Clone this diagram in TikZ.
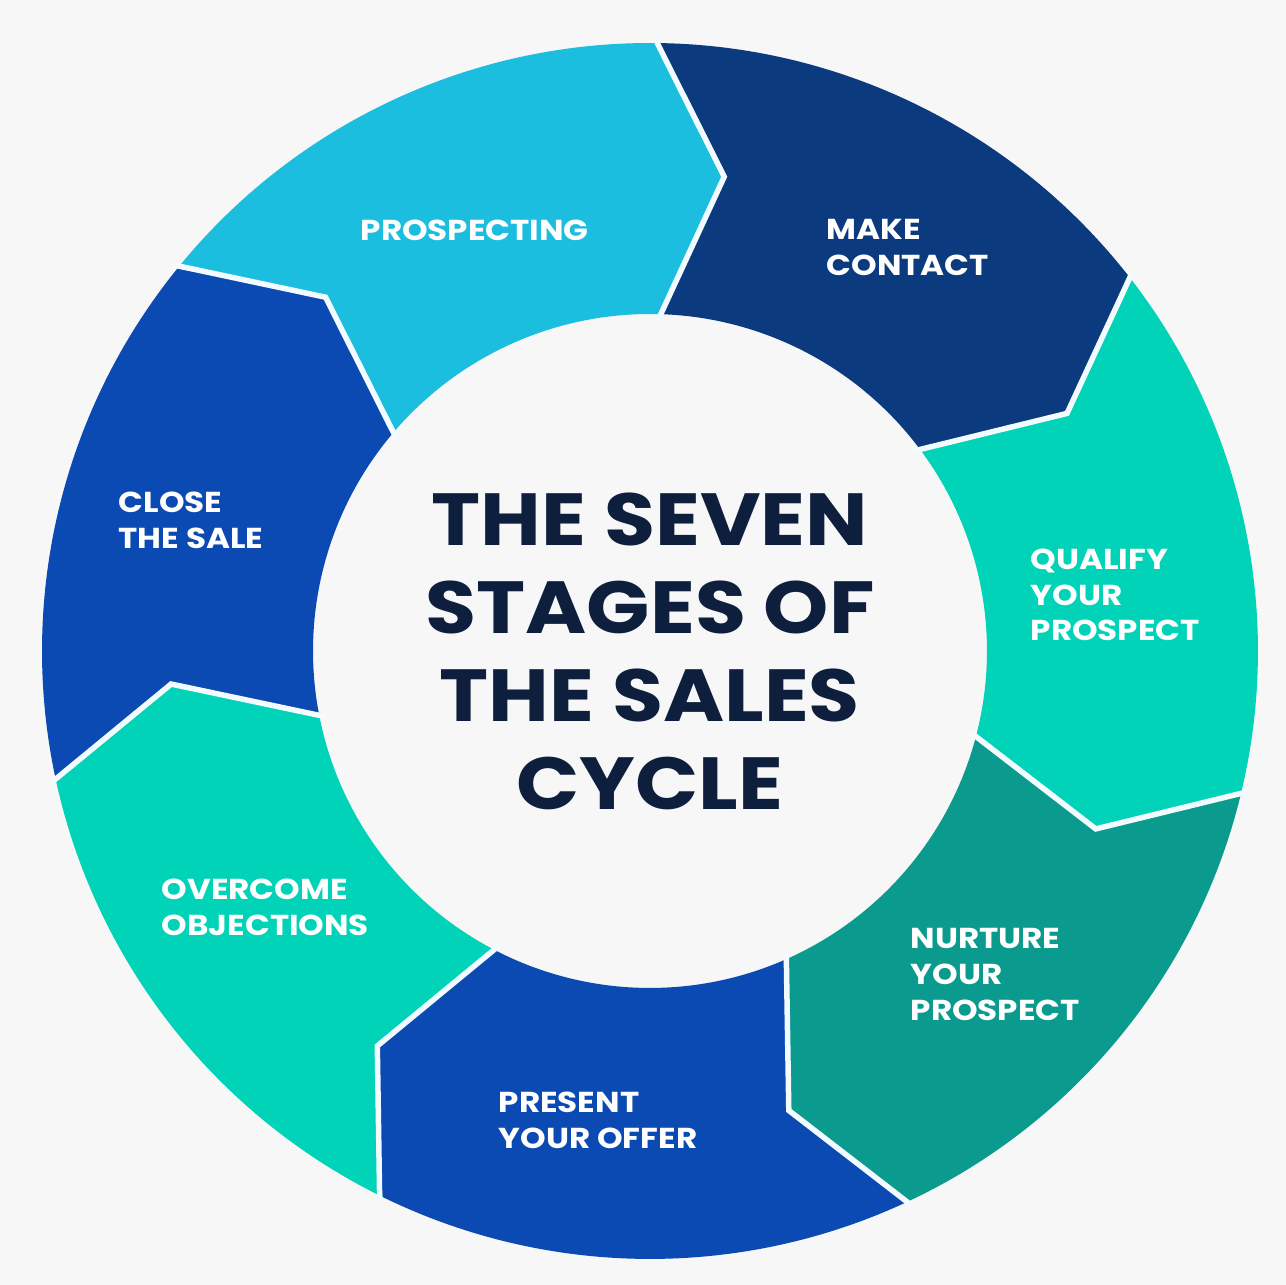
\documentclass[tikz,border=0pt]{standalone}
\usepackage{fontspec}
\setmainfont{Poppins}
\newfontfamily\titlefont{Poppins}[FakeStretch=1.125]
\newfontfamily\labelfont{Poppins}[FakeStretch=1.13]
\definecolor{bgc}{HTML}{F7F7F7}
\definecolor{cProsp}{HTML}{1CBEDF}
\definecolor{cNavy}{HTML}{0B3A7E}
\definecolor{cTurq}{HTML}{00D3B7}
\definecolor{cTeal}{HTML}{0A9B8E}
\definecolor{cRoyal}{HTML}{0B4AB3}
\definecolor{cTitle}{HTML}{0E1F3D}
\definecolor{cSep}{HTML}{F2FBFF}
\newcommand{\Ro}{6.08}
\newcommand{\Ri}{3.37}
\newcommand{\Rt}{4.80}
\newcommand{\salesseg}[3]{%
  \fill[#3] (#1:\Ro) arc[start angle=#1, end angle=#2, radius=\Ro]
    -- ({#2-8.5}:\Rt) -- ({#2-1}:\Ri)
    arc[start angle={#2-1}, end angle={#1-1}, radius=\Ri]
    -- ({#1-8.5}:\Rt) -- cycle;}
\newcommand{\salessep}[1]{%
  \draw[sepline] (#1:{\Ro+0.06}) -- ({#1-8.5}:\Rt) -- ({#1-1}:{\Ri-0.06});}
\tikzset{
  sepline/.style={draw=cSep, line width=0.055cm, line join=miter},
  stagelabel/.style={anchor=north west, inner sep=0pt, align=left, text=white,
    font=\labelfont\bfseries\fontsize{8.2}{10.2}\selectfont},
  titletext/.style={anchor=north, inner sep=0pt, align=center, text=cTitle,
    font=\titlefont\bfseries\fontsize{21}{25.1}\selectfont}
}
\begin{document}
\begin{tikzpicture}
\fill[bgc] (-6.50,-6.34) rectangle (6.36,6.51);
\useasboundingbox (-6.50,-6.34) rectangle (6.36,6.51);
% segments
\salesseg{141.02}{89.6}{cProsp}
\salesseg{89.6}{38.17}{cNavy}
\salesseg{38.17}{-13.26}{cTurq}
\salesseg{-13.26}{-64.69}{cTeal}
\salesseg{-64.69}{-116.12}{cRoyal}
\salesseg{-116.12}{-167.55}{cTurq}
\salesseg{-167.55}{-218.98}{cRoyal}
% separators
\salessep{89.6}
\salessep{38.17}
\salessep{-13.26}
\salessep{-64.69}
\salessep{-116.12}
\salessep{-167.55}
\salessep{141.02}
% labels
\node[stagelabel] (prosp) at (-2.90,4.32) {PROSPECTING};
\node[stagelabel] (contact) at (1.76,4.32) {MAKE\\CONTACT};
\node[stagelabel] (qualify) at (3.80,1.03) {QUALIFY\\YOUR\\PROSPECT};
\node[stagelabel] (nurture) at (2.60,-2.77) {NURTURE\\YOUR\\PROSPECT};
\node[stagelabel] (present) at (-1.52,-4.40) {PRESENT\\YOUR OFFER};
\node[stagelabel] (overcome) at (-4.89,-2.27) {OVERCOME\\OBJECTIONS};
\node[stagelabel] (close) at (-5.32,1.60) {CLOSE\\THE SALE};
% title
\node[titletext] (title) at (0,1.59) {THE SEVEN\\STAGES OF\\THE SALES\\CYCLE};
\end{tikzpicture}
\end{document}
